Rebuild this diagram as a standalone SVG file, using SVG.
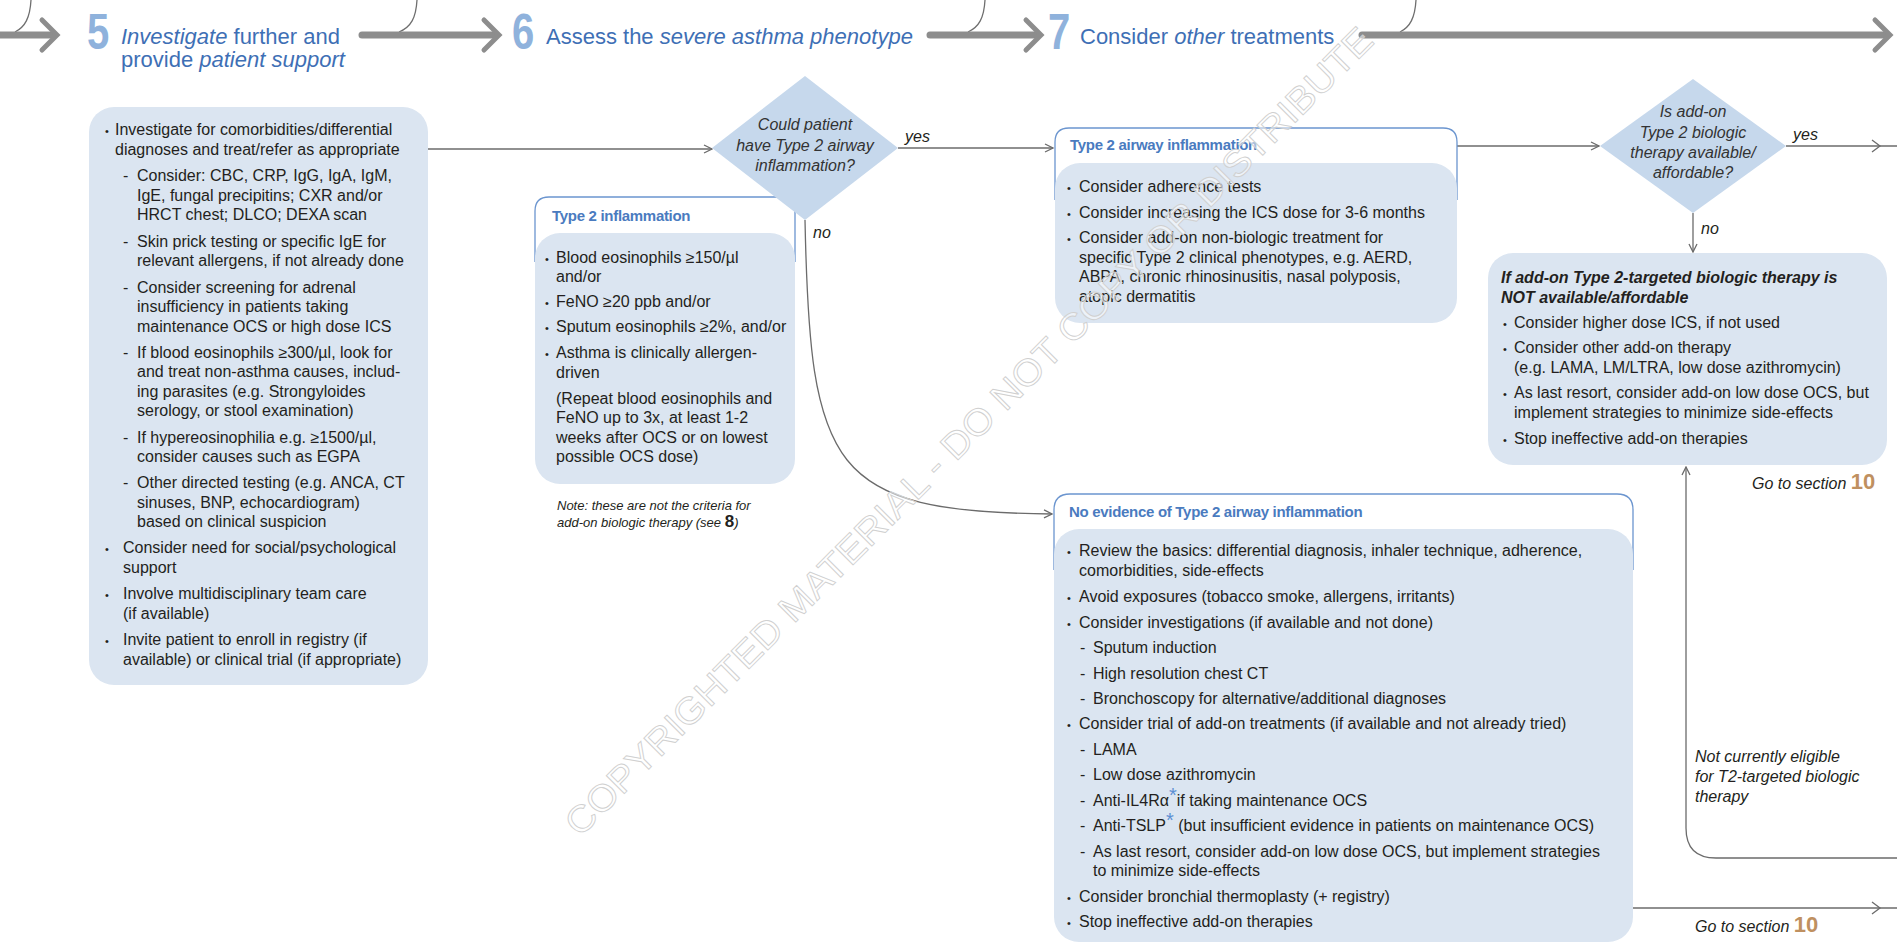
<svg xmlns="http://www.w3.org/2000/svg" width="1897" height="943" viewBox="0 0 1897 943">
<style>
.t{font-family:"Liberation Sans",Arial,sans-serif;font-size:16px;fill:#231f20}
.it{font-style:italic}
.b{font-weight:bold}
.hd{font-family:"Liberation Sans",Arial,sans-serif;font-size:15px;font-weight:bold;fill:#4a7bbf;letter-spacing:-0.3px}
.bul{font-family:"Liberation Sans",Arial,sans-serif;font-size:11px;fill:#231f20}
.dt{font-family:"Liberation Sans",Arial,sans-serif;font-size:16px;font-style:italic;fill:#333;text-anchor:middle}
.box{fill:#dbe5f1}
.outl{fill:#fff;stroke:#6b95cf;stroke-width:1.3}
.dia{fill:#c6d8ec}
.conn{fill:none;stroke:#6b6b6b;stroke-width:1.3}
.hdr{font-family:"Liberation Sans",Arial,sans-serif;font-size:22px;fill:#3e6fb5}
.num{font-family:"Liberation Sans",Arial,sans-serif;font-size:50px;font-weight:bold;fill:#8fb2dc}
.harrow{fill:none;stroke:#8d8d8d;stroke-width:7;stroke-linecap:round}
.hchev{fill:none;stroke:#8d8d8d;stroke-width:5;stroke-linecap:round;stroke-linejoin:miter}
.curve{fill:none;stroke:#6f6f6f;stroke-width:1.3}
.ten{font-family:"Liberation Sans",Arial,sans-serif;font-size:22px;font-weight:bold;font-style:normal;fill:#bf9060}
.ast{font-family:"Liberation Sans",Arial,sans-serif;font-size:20px;fill:#5b8fd3}
.wm{font-family:"Liberation Sans",Arial,sans-serif;font-size:37px;fill:#ffffff;fill-opacity:0.5;stroke:#d0d0d0;stroke-width:0.9}
</style>
<defs>
<marker id="ah" viewBox="0 0 10 10" refX="9" refY="5" markerWidth="10" markerHeight="10" markerUnits="userSpaceOnUse" orient="auto">
<path d="M1,1 L9,5 L1,9" fill="none" stroke="#6b6b6b" stroke-width="1.3"/>
</marker>
</defs>

<g id="header">
<path class="curve" d="M31,0 C30,18 25,27 15,32"/>
<path class="harrow" d="M-5,35 L52,35"/>
<path class="hchev" d="M42,20 L57,35 L42,50"/>
<text class="num" transform="translate(87,49) scale(0.8,1)">5</text>
<text class="hdr" x="121" y="44"><tspan class="it">Investigate</tspan> further and</text>
<text class="hdr" x="121" y="67">provide <tspan class="it">patient support</tspan></text>

<path class="curve" d="M417,0 C416,18 411,27 399,32"/>
<path class="harrow" d="M362,35 L494,35"/>
<path class="hchev" d="M484,20 L499,35 L484,50"/>
<text class="num" transform="translate(512,49) scale(0.8,1)">6</text>
<text class="hdr" x="546" y="44">Assess the <tspan class="it">severe asthma phenotype</tspan></text>

<path class="curve" d="M985,0 C984,18 979,27 968,32"/>
<path class="harrow" d="M930,35 L1036,35"/>
<path class="hchev" d="M1026,20 L1041,35 L1026,50"/>
<text class="num" transform="translate(1048,49) scale(0.8,1)">7</text>
<text class="hdr" x="1080" y="44">Consider <tspan class="it">other</tspan> treatments</text>

<path class="curve" d="M1416,0 C1415,18 1410,27 1400,32"/>
<path class="harrow" d="M1362,35 L1886,35"/>
<path class="hchev" d="M1875,20 L1890,35 L1875,50"/>
</g>

<g id="connectors">
<path class="conn" d="M428,149 L712,149" marker-end="url(#ah)"/>
<path class="conn" d="M898,148 L1053,148" marker-end="url(#ah)"/>
<path class="conn" d="M805,220 C810,470 830,512 1052,514" marker-end="url(#ah)"/>
<path class="conn" d="M1457,146 L1599,146" marker-end="url(#ah)"/>
<path class="conn" d="M1786,146 L1897,146"/>
<path class="conn" d="M1872,140 L1880,146 L1872,152"/>
<path class="conn" d="M1693,213 L1693,252" marker-end="url(#ah)"/>
<path class="conn" d="M1897,858 L1716,858 Q1686,858 1686,828 L1686,467" marker-end="url(#ah)"/>
<path class="conn" d="M1633,908 L1897,908"/>
<path class="conn" d="M1872,902 L1880,908 L1872,914"/>
<text class="t it" x="905" y="142">yes</text>
<text class="t it" x="813" y="238">no</text>
<text class="t it" x="1793" y="140">yes</text>
<text class="t it" x="1701" y="234">no</text>
</g>

<g id="box5">
<rect class="box" x="89" y="107" width="339" height="578" rx="25"/>
<text class="bul" x="105" y="135">•</text>
<text class="t" x="115" y="135">Investigate for comorbidities/differential</text>
<text class="t" x="115" y="154.6">diagnoses and treat/refer as appropriate</text>
<text class="t" x="123" y="181">-</text>
<text class="t" x="137" y="181">Consider: CBC, CRP, IgG, IgA, IgM,</text>
<text class="t" x="137" y="200.6">IgE, fungal precipitins; CXR and/or</text>
<text class="t" x="137" y="220.2">HRCT chest; DLCO; DEXA scan</text>
<text class="t" x="123" y="246.5">-</text>
<text class="t" x="137" y="246.5">Skin prick testing or specific IgE for</text>
<text class="t" x="137" y="266">relevant allergens, if not already done</text>
<text class="t" x="123" y="292.5">-</text>
<text class="t" x="137" y="292.5">Consider screening for adrenal</text>
<text class="t" x="137" y="312">insufficiency in patients taking</text>
<text class="t" x="137" y="331.6">maintenance OCS or high dose ICS</text>
<text class="t" x="123" y="357.6">-</text>
<text class="t" x="137" y="357.6">If blood eosinophils ≥300/µl, look for</text>
<text class="t" x="137" y="377.2">and treat non-asthma causes, includ-</text>
<text class="t" x="137" y="396.8">ing parasites (e.g. Strongyloides</text>
<text class="t" x="137" y="416.4">serology, or stool examination)</text>
<text class="t" x="123" y="442.5">-</text>
<text class="t" x="137" y="442.5">If hypereosinophilia e.g. ≥1500/µl,</text>
<text class="t" x="137" y="462">consider causes such as EGPA</text>
<text class="t" x="123" y="488">-</text>
<text class="t" x="137" y="488">Other directed testing (e.g. ANCA, CT</text>
<text class="t" x="137" y="507.6">sinuses, BNP, echocardiogram)</text>
<text class="t" x="137" y="527.2">based on clinical suspicion</text>
<text class="bul" x="105" y="553">•</text>
<text class="t" x="123" y="553">Consider need for social/psychological</text>
<text class="t" x="123" y="572.6">support</text>
<text class="bul" x="105" y="599">•</text>
<text class="t" x="123" y="599">Involve multidisciplinary team care</text>
<text class="t" x="123" y="618.6">(if available)</text>
<text class="bul" x="105" y="645">•</text>
<text class="t" x="123" y="645">Invite patient to enroll in registry (if</text>
<text class="t" x="123" y="664.6">available) or clinical trial (if appropriate)</text>
</g>

<g id="type2-inflammation">
<path class="outl" d="M535,262 L535,211 Q535,197 549,197 L781,197 Q795,197 795,211 L795,262"/>
<rect class="box" x="535" y="233" width="260" height="251" rx="25"/>
<text class="hd" x="552" y="221">Type 2 inflammation</text>
<text class="bul" x="545" y="262.7">•</text>
<text class="t" x="556" y="262.7">Blood eosinophils ≥150/µl</text>
<text class="t" x="556" y="282">and/or</text>
<text class="bul" x="545" y="306.5">•</text>
<text class="t" x="556" y="306.5">FeNO ≥20 ppb and/or</text>
<text class="bul" x="545" y="332">•</text>
<text class="t" x="556" y="332">Sputum eosinophils ≥2%, and/or</text>
<text class="bul" x="545" y="358">•</text>
<text class="t" x="556" y="358">Asthma is clinically allergen-</text>
<text class="t" x="556" y="377.6">driven</text>
<text class="t" x="556" y="403.5">(Repeat blood eosinophils and</text>
<text class="t" x="556" y="423">FeNO up to 3x, at least 1-2</text>
<text class="t" x="556" y="442.6">weeks after OCS or on lowest</text>
<text class="t" x="556" y="462.2">possible OCS dose)</text>
<text class="t it" x="557" y="510" style="font-size:13px">Note: these are not the criteria for</text>
<text class="t it" x="557" y="527" style="font-size:13px">add-on biologic therapy (see <tspan style="font-style:normal;font-size:17px;font-weight:bold">8</tspan>)</text>
</g>

<g id="diamond1">
<polygon class="dia" points="805,76 898,148 805,220 712,148"/>
<text class="dt" x="805" y="130">Could patient</text>
<text class="dt" x="805" y="151">have Type 2 airway</text>
<text class="dt" x="805" y="171">inflammation?</text>
</g>

<g id="type2-airway">
<path class="outl" d="M1055,200 L1055,142 Q1055,128 1069,128 L1443,128 Q1457,128 1457,142 L1457,200"/>
<rect class="box" x="1055" y="163" width="402" height="160" rx="25"/>
<text class="hd" x="1070" y="150">Type 2 airway inflammation</text>
<text class="bul" x="1067" y="192">•</text>
<text class="t" x="1079" y="192">Consider adherence tests</text>
<text class="bul" x="1067" y="217.5">•</text>
<text class="t" x="1079" y="217.5">Consider increasing the ICS dose for 3-6 months</text>
<text class="bul" x="1067" y="243">•</text>
<text class="t" x="1079" y="243">Consider add-on non-biologic treatment for</text>
<text class="t" x="1079" y="262.6">specific Type 2 clinical phenotypes, e.g. AERD,</text>
<text class="t" x="1079" y="282.2">ABPA, chronic rhinosinusitis, nasal polyposis,</text>
<text class="t" x="1079" y="301.8">atopic dermatitis</text>
</g>

<g id="diamond2">
<polygon class="dia" points="1693,79 1786,146 1693,213 1600,146"/>
<text class="dt" x="1693" y="117">Is add-on</text>
<text class="dt" x="1693" y="138">Type 2 biologic</text>
<text class="dt" x="1693" y="158">therapy available/</text>
<text class="dt" x="1693" y="178">affordable?</text>
</g>

<g id="not-available">
<rect class="box" x="1488" y="253" width="399" height="212" rx="25"/>
<text class="t it b" x="1501" y="283">If add-on Type 2-targeted biologic therapy is</text>
<text class="t it b" x="1501" y="303">NOT available/affordable</text>
<text class="bul" x="1503" y="328">•</text>
<text class="t" x="1514" y="328">Consider higher dose ICS, if not used</text>
<text class="bul" x="1503" y="353">•</text>
<text class="t" x="1514" y="353">Consider other add-on therapy</text>
<text class="t" x="1514" y="373">(e.g. LAMA, LM/LTRA, low dose azithromycin)</text>
<text class="bul" x="1503" y="398">•</text>
<text class="t" x="1514" y="398">As last resort, consider add-on low dose OCS, but</text>
<text class="t" x="1514" y="418">implement strategies to minimize side-effects</text>
<text class="bul" x="1503" y="444">•</text>
<text class="t" x="1514" y="444">Stop ineffective add-on therapies</text>
</g>

<g id="goto-upper">
<text class="t it" x="1752" y="489">Go to section <tspan class="ten">10</tspan></text>
</g>

<g id="not-eligible">
<text class="t it" x="1695" y="762">Not currently eligible</text>
<text class="t it" x="1695" y="782">for T2-targeted biologic</text>
<text class="t it" x="1695" y="802">therapy</text>
</g>

<g id="no-evidence">
<path class="outl" d="M1054,570 L1054,510 Q1054,494 1070,494 L1617,494 Q1633,494 1633,510 L1633,570"/>
<rect class="box" x="1054" y="529" width="579" height="413" rx="25"/>
<text class="hd" x="1069" y="517">No evidence of Type 2 airway inflammation</text>
<text class="bul" x="1067" y="556">•</text>
<text class="t" x="1079" y="556">Review the basics: differential diagnosis, inhaler technique, adherence,</text>
<text class="t" x="1079" y="576">comorbidities, side-effects</text>
<text class="bul" x="1067" y="602">•</text>
<text class="t" x="1079" y="602">Avoid exposures (tobacco smoke, allergens, irritants)</text>
<text class="bul" x="1067" y="627.5">•</text>
<text class="t" x="1079" y="627.5">Consider investigations (if available and not done)</text>
<text class="t" x="1080" y="653">-</text>
<text class="t" x="1093" y="653">Sputum induction</text>
<text class="t" x="1080" y="678.5">-</text>
<text class="t" x="1093" y="678.5">High resolution chest CT</text>
<text class="t" x="1080" y="704">-</text>
<text class="t" x="1093" y="704">Bronchoscopy for alternative/additional diagnoses</text>
<text class="bul" x="1067" y="729">•</text>
<text class="t" x="1079" y="729">Consider trial of add-on treatments (if available and not already tried)</text>
<text class="t" x="1080" y="754.5">-</text>
<text class="t" x="1093" y="754.5">LAMA</text>
<text class="t" x="1080" y="780">-</text>
<text class="t" x="1093" y="780">Low dose azithromycin</text>
<text class="t" x="1080" y="805.5">-</text>
<text class="t" x="1093" y="805.5">Anti-IL4Rα<tspan class="ast" dy="-4">*</tspan><tspan dy="4">if taking maintenance OCS</tspan></text>
<text class="t" x="1080" y="831">-</text>
<text class="t" x="1093" y="831">Anti-TSLP<tspan class="ast" dy="-4">*</tspan><tspan dy="4"> (but insufficient evidence in patients on maintenance OCS)</tspan></text>
<text class="t" x="1080" y="856.5">-</text>
<text class="t" x="1093" y="856.5">As last resort, consider add-on low dose OCS, but implement strategies</text>
<text class="t" x="1093" y="876">to minimize side-effects</text>
<text class="bul" x="1067" y="901.5">•</text>
<text class="t" x="1079" y="901.5">Consider bronchial thermoplasty (+ registry)</text>
<text class="bul" x="1067" y="927">•</text>
<text class="t" x="1079" y="927">Stop ineffective add-on therapies</text>
</g>

<g id="goto-lower">
<text class="t it" x="1695" y="932">Go to section <tspan class="ten">10</tspan></text>
</g>

<g id="watermark">
<text class="wm" transform="translate(580,838) rotate(-45)" x="0" y="0" textLength="1125" lengthAdjust="spacingAndGlyphs">COPYRIGHTED MATERIAL - DO NOT COPY OR DISTRIBUTE</text>
</g>
</svg>
